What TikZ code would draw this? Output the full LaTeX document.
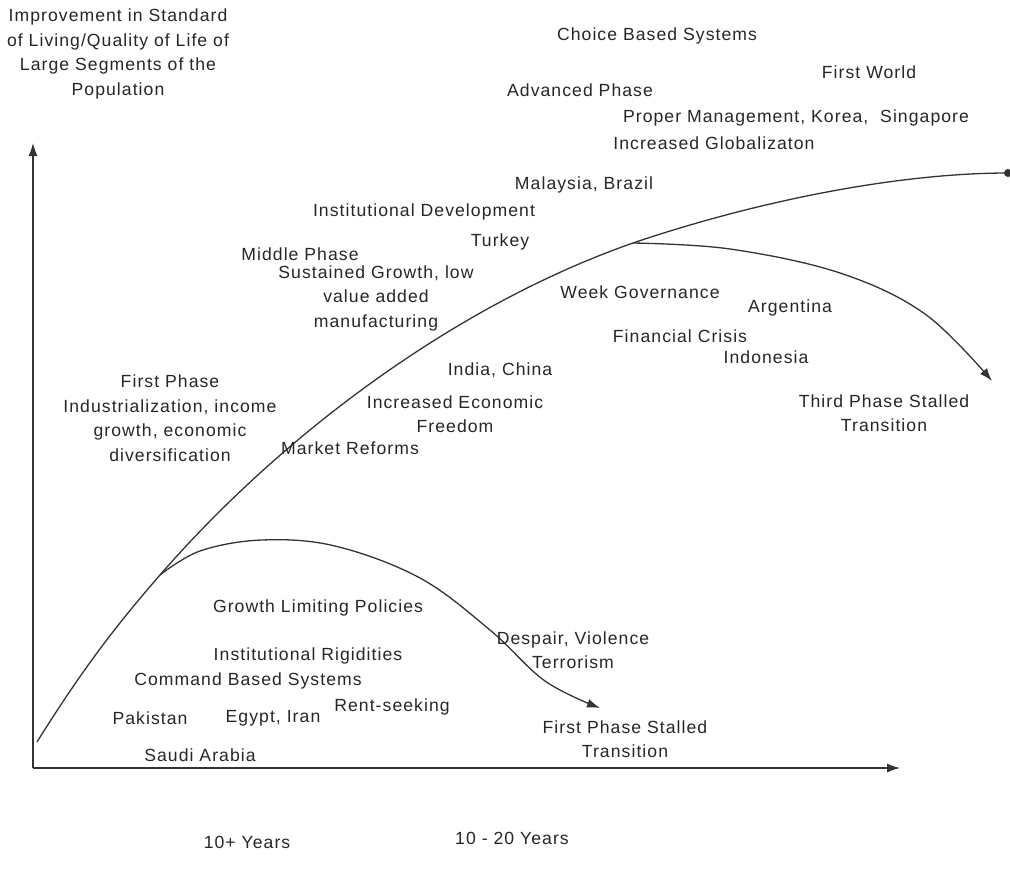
\documentclass[tikz,border=0pt]{standalone}
\usepackage{fontspec}
\usetikzlibrary{arrows.meta}
\setmainfont[LetterSpace=6]{Liberation Sans}
\newcommand\txt{\fontsize{17.6}{24.5}\selectfont}

\begin{document}
\begin{tikzpicture}[x=1pt,y=-1pt,
	lbl/.style={align=center,inner sep=0pt,font=\txt,text=black!85},
	crv/.style={line width=1.3pt,black!80},
	tip/.style={-{Latex[length=13pt,width=9pt]}}]
	\useasboundingbox (0,0) rectangle (1010,886);

	% axes
	\coordinate (o) at (33,768);
	\coordinate (ytop) at (33,143);
	\coordinate (xend) at (900,768);
	\draw[crv,tip] (o) -- (ytop);
	\draw[crv,tip] (o) -- (xend);

	% curves
	\coordinate (start) at (37,742);
	\coordinate (split1) at (160,575);
	\coordinate (split2) at (633,243);
	\coordinate (top) at (1008,173);
	\coordinate (stall1) at (600,708);
	\coordinate (stall3) at (992,381);
	\draw[crv] (start) .. controls (85,665) and (120,621) .. (split1)
		.. controls (280,437) and (453,306) .. (split2)
		.. controls (760,200) and (900,173) .. (top);
	\fill[black!80] (top) circle (4);
	\draw[crv,tip] plot[smooth,tension=0.6] coordinates {(split1) (200,551) (262,540) (335,546) (420,578) (490,630) (545,681) (stall1)};
	\draw[crv,tip] plot[smooth,tension=0.6] coordinates {(split2) (730,249) (840,273) (925,314) (stall3)};

	\node[lbl] (ylab) at (118,54) {Improvement in Standard\\of Living/Quality of Life of\\Large Segments of the\\Population};
	\node[lbl] (choice) at (657,36) {Choice Based Systems};
	\node[lbl] (first) at (869,72) {First World};
	\node[lbl] (adv) at (580,90) {Advanced Phase};
	\node[lbl] (korea) at (796,118) {Proper Management, Korea,\ \ Singapore};
	\node[lbl] (glob) at (714,143) {Increased Globalizaton};
	\node[lbl] (malay) at (584,185) {Malaysia, Brazil};
	\node[lbl] (inst) at (424,212) {Institutional Development};
	\node[lbl] (turkey) at (500,242) {Turkey};
	\node[lbl] (middle) at (300,254) {Middle Phase};
	\node[lbl] (sust) at (376,298) {Sustained Growth, low\\value added\\manufacturing};
	\node[lbl] (week) at (640,292) {Week Governance};
	\node[lbl] (arg) at (790,308) {Argentina};
	\node[lbl] (fin) at (680,336) {Financial Crisis};
	\node[lbl] (indo) at (766,357) {Indonesia};
	\node[lbl] (india) at (500,370) {India, China};
	\node[lbl] (third) at (884,413) {Third Phase Stalled\\Transition};
	\node[lbl] (phase1) at (170,418) {First Phase\\Industrialization, income\\growth, economic\\diversification};
	\node[lbl] (free) at (455,414) {Increased Economic\\Freedom};
	\node[lbl] (market) at (350,448) {Market Reforms};
	\node[lbl] (limit) at (318,608) {Growth Limiting Policies};
	\node[lbl] (despair) at (573,650) {Despair, Violence\\Terrorism};
	\node[lbl] (rigid) at (308,656) {Institutional Rigidities};
	\node[lbl] (command) at (248,681) {Command Based Systems};
	\node[lbl] (pak) at (150,718) {Pakistan};
	\node[lbl] (egypt) at (273,718) {Egypt, Iran};
	\node[lbl] (rent) at (392,707) {Rent-seeking};
	\node[lbl] (stalled) at (625,739) {First Phase Stalled\\Transition};
	\node[lbl] (saudi) at (200,755) {Saudi Arabia};
	\node[lbl] (yrs1) at (247,842) {10+ Years};
	\node[lbl] (yrs2) at (512,838) {10 - 20 Years};
\end{tikzpicture}
\end{document}
